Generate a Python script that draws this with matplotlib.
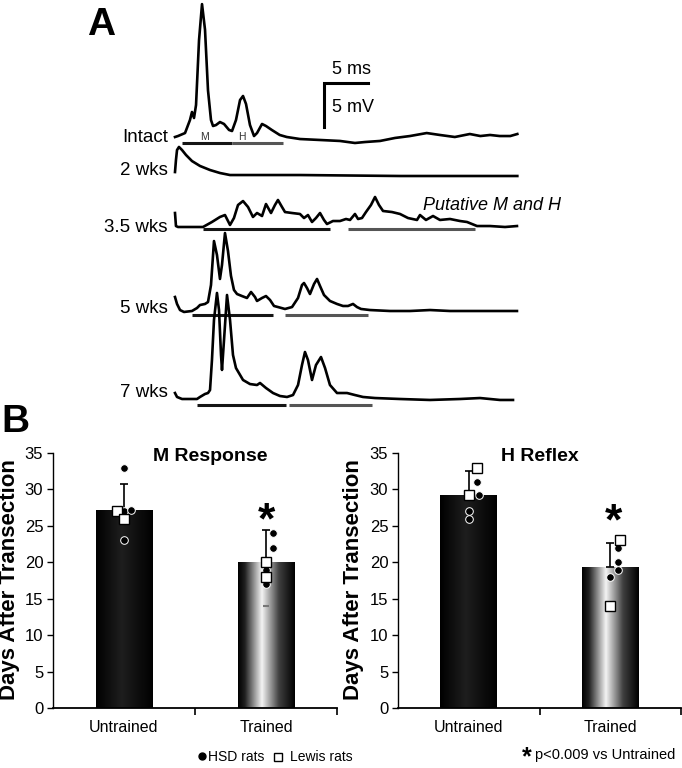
import numpy as np
import matplotlib
matplotlib.use('Agg')
import matplotlib.pyplot as plt
from matplotlib.colors import LinearSegmentedColormap
from matplotlib.lines import Line2D

plt.rcParams['font.family'] = ['Liberation Sans', 'DejaVu Sans']

# ---------------- Panel A: EMG traces (time in ms, amplitude in mV above baseline)
intact_t = [0, 0.34, 1.14, 1.70, 1.93, 2.16, 2.39, 2.73, 3.07, 3.41, 3.75, 4.09, 4.32, 4.66,
            5.11, 5.57, 6.14, 6.48, 6.93, 7.39, 7.73, 8.07, 8.52, 8.98, 9.32, 9.89, 10.34,
            11.0, 11.9, 12.7, 14.2, 16.5, 18.75, 20.45, 21.6, 23.3, 25.0, 26.7, 28.6, 30.1,
            31.8, 33.5, 34.7, 35.8, 36.9, 38.1, 38.9]
intact_v = [0, 0.11, 0.45, 1.93, 2.84, 2.16, 3.64, 11.0, 15.1, 12.2, 5.3, 1.93, 1.25, 1.36,
            1.70, 1.48, 0.80, 0.68, 1.93, 4.2, 4.66, 3.75, 1.36, 0.11, 0.45, 1.48, 1.25,
            0.80, 0.23, 0, -0.23, -0.34, -0.45, -0.68, -0.57, -0.45, -0.11, 0.11, 0.45, 0.23,
            0, 0.34, 0.11, 0.23, 0.11, 0.11, 0.34]

wk2_t = [0, 0.11, 0.23, 0.45, 0.80, 1.25, 1.93, 2.84, 3.98, 5.11, 6.25, 8.52, 14.2, 25.6, 38.9]
wk2_v = [0.45, 1.82, 2.95, 3.30, 2.95, 2.39, 1.70, 1.14, 0.68, 0.34, 0.11, 0.11, 0.11, 0, 0]

wk35_t = [0, 0.11, 0.34, 1.70, 3.18, 4.20, 5.11, 5.68, 6.25, 6.70, 7.16, 7.73, 8.30, 8.86,
          9.32, 9.89, 10.34, 10.91, 11.36, 11.70, 12.16, 12.50, 13.30, 14.20, 14.66, 15.11,
          15.57, 16.02, 16.48, 16.93, 17.27, 17.95, 18.75, 19.43, 19.89, 20.45, 20.80, 21.25,
          21.70, 22.27, 22.73, 23.18, 23.64, 24.66, 25.57, 26.48, 27.50, 27.84, 28.52, 29.32,
          30.11, 31.25, 32.39, 33.18, 34.32, 35.80, 37.50, 38.86]
wk35_v = [1.59, 0.11, 0, 0, 0, 0.57, 1.14, 1.36, 0.23, 1.02, 2.50, 2.95, 2.27, 1.14,
          1.59, 1.25, 2.61, 1.59, 2.50, 3.07, 2.27, 1.70, 1.59, 1.48, 1.02, 1.36,
          0.57, 1.02, 1.59, 0.80, 0.34, 0.68, 0.68, 0.91, 0.80, 1.48, 0.91, 1.02,
          1.70, 2.50, 3.41, 2.50, 1.82, 1.70, 1.48, 1.02, 0.80, 1.36, 0.80, 1.25,
          0.80, 0.91, 0.68, 0.57, 0.11, 0.11, 0, 0.11]

wk5_t = [0, 0.23, 0.57, 1.02, 1.93, 2.50, 2.84, 3.41, 3.75, 4.09, 4.43, 4.77, 5.11, 5.34,
         5.68, 6.02, 6.36, 6.70, 7.05, 7.61, 8.18, 8.64, 9.09, 9.32, 9.89, 10.34, 10.80,
         11.25, 11.70, 12.50, 13.30, 13.98, 14.43, 14.66, 15.00, 15.34, 15.80, 16.14, 16.48,
         16.93, 17.61, 18.41, 19.09, 19.66, 20.23, 20.68, 21.14, 22.16, 24.43, 26.70, 28.98,
         31.25, 33.52, 35.80, 38.86]
wk5_v = [1.59, 0.80, 0.11, -0.11, 0, 0.34, 0.68, 0.80, 1.02, 2.95, 7.95, 6.36, 3.64, 5.23,
         8.86, 6.82, 4.0, 2.39, 1.93, 1.70, 1.48, 2.16, 1.59, 1.14, 1.48, 1.70, 1.25,
         0.57, 0.45, 0.23, 0.45, 1.48, 2.95, 3.18, 2.61, 1.93, 3.07, 3.64, 2.84,
         1.82, 1.14, 0.80, 0.57, 0.57, 0.80, 0.45, 0.23, 0.11, 0, 0, 0.11,
         0, 0, 0, 0]

wk7_t = [0, 0.23, 0.80, 2.50, 2.84, 3.41, 3.75, 3.98, 4.20, 4.43, 4.77, 5.0, 5.23, 5.34,
         5.57, 5.91, 6.25, 6.59, 6.93, 7.73, 8.52, 9.32, 9.66, 10.34, 11.14, 11.93, 12.73,
         13.41, 13.98, 14.43, 14.77, 15.11, 15.57, 16.02, 16.59, 17.05, 17.61, 18.41, 19.55,
         20.45, 21.36, 22.73, 25.57, 28.98, 32.39, 34.66, 36.93, 38.41]
wk7_v = [0.68, 0.23, 0, 0, 0.23, 0.57, 0.68, 1.02, 4.43, 8.98, 12.05, 10.11, 5.0, 3.30,
         6.70, 11.82, 9.0, 5.0, 3.52, 2.16, 1.70, 1.59, 1.82, 1.25, 0.68, 0.34, 0.23,
         0.45, 1.59, 3.86, 5.34, 4.43, 2.16, 3.86, 4.77, 3.52, 1.59, 0.68, 0.68,
         0.45, 0.23, 0.11, 0, -0.11, 0, 0.11, -0.11, -0.11]

trace_labels = ['Intact', '2 wks', '3.5 wks', '5 wks', '7 wks']
# M and H analysis windows (ms): (M start, M end, H start, H end)
windows = {'Intact': (0.80, 6.48, 6.48, 12.27),
           '3.5 wks': (3.18, 17.61, 19.66, 34.09),
           '5 wks': (1.93, 11.14, 12.50, 21.93),
           '7 wks': (2.50, 12.61, 12.95, 22.39)}

# ---------------- Panel B: days after transection
groups = ['Untrained', 'Trained']
m_mean = [27.2, 20.0]
m_sd = [3.6, 4.4]
h_mean = [29.3, 19.4]
h_sd = [3.2, 3.2]

m_hsd = [[33, 27, 27.2, 23], [24, 22, 19, 17]]
m_lewis = [[27, 26], [20, 18]]
h_hsd = [[31, 29.2, 27, 26], [22, 20, 19, 18]]
h_lewis = [[33, 29.3], [23, 14]]
m_extra = [14]  # faint grey mark in trained M bar

W, H = 682, 768
fig = plt.figure(figsize=(W / 100, H / 100), dpi=100)


def fx(px):
    return px / W


def fy(py):
    return 1 - py / H


# ---- panel A, 1 ms = 1 mV = 8.8 px, trace start at x = 175 px
PX = 8.8
X0 = 175
top_a = 415
ax_a = fig.add_axes([0, fy(top_a), 1, top_a / H])
ax_a.set_xlim(-X0 / PX, (W - X0) / PX)
ax_a.set_ylim(-top_a / PX, 0)
ax_a.axis('off')

traces = [(intact_t, intact_v), (wk2_t, wk2_v), (wk35_t, wk35_v), (wk5_t, wk5_v), (wk7_t, wk7_v)]
base_px = [137, 176, 227, 311, 399]
label_base_px = [142, 175, 232, 313, 397]
win_px = {'Intact': 143, '3.5 wks': 229, '5 wks': 315, '7 wks': 405}

for (t, v), lab, b, lb in zip(traces, trace_labels, base_px, label_base_px):
    off = -b / PX
    ax_a.plot(t, np.array(v) + off, color='black', lw=1.9, solid_joinstyle='round')
    ax_a.text(-0.8, -lb / PX, lab, ha='right', va='baseline', fontsize=13.5)
    if lab in windows:
        m0, m1, h0, h1 = windows[lab]
        yw = -win_px[lab] / PX
        ax_a.plot([m0, m1], [yw, yw], color='#151515', lw=2.2, solid_capstyle='butt')
        ax_a.plot([h0, h1], [yw, yw], color='#555555', lw=2.2, solid_capstyle='butt')

ax_a.text(3.4, -140 / PX, 'M', ha='center', va='baseline', fontsize=7.5, color='#333333')
ax_a.text(7.6, -140 / PX, 'H', ha='center', va='baseline', fontsize=7.5, color='#333333')

# scale bar
sx, sy = (324 - X0) / PX, -83 / PX
ax_a.plot([sx + 5, sx, sx], [sy, sy, sy - 5], color='black', lw=2.2, solid_joinstyle='miter')
ax_a.text((351 - X0) / PX, -74 / PX, '5 ms', ha='center', va='baseline', fontsize=13)
ax_a.text((332 - X0) / PX, -112 / PX, '5 mV', ha='left', va='baseline', fontsize=13)
ax_a.text((423 - X0) / PX, -210 / PX, 'Putative M and H', ha='left', va='baseline',
          fontsize=13, style='italic')

fig.text(fx(87), fy(35), 'A', fontsize=28, fontweight='bold', va='baseline')
fig.text(fx(1), fy(432), 'B', fontsize=28, fontweight='bold', va='baseline')

# ---- panel B
cmap_dark = LinearSegmentedColormap.from_list('dark', [(0, '#000000'), (0.45, '#1e1e1e'), (1, '#000000')])
cmap_light = LinearSegmentedColormap.from_list(
    'light', [(0, '#000000'), (0.12, '#202020'), (0.42, '#f4f4f4'), (0.72, '#404040'), (1, '#000000')])
grad = np.linspace(0, 1, 256).reshape(1, -1)


def bar_panel(ax, means, sds, hsd, lewis, title, title_x, hsd_dx, lewis_dx, star_y):
    x = np.arange(len(groups))
    bars = ax.bar(x, means, width=0.4, color='none', edgecolor='none', zorder=2)
    for b, cm in zip(bars, [cmap_dark, cmap_light]):
        x0 = b.get_x()
        im = ax.imshow(grad, cmap=cm, extent=[x0, x0 + b.get_width(), 0, b.get_height()],
                       aspect='auto', zorder=2)
        im.set_clip_path(b)
    ax.errorbar(x, means, yerr=[[0, 0], sds], fmt='none', ecolor='black', elinewidth=1.2,
                capsize=3, capthick=1.2, zorder=3)
    for i in range(len(groups)):
        ax.plot(i + np.array(hsd_dx[i]), hsd[i], 'o', ms=5.5, mfc='black', mec='white',
                mew=0.7, zorder=5, linestyle='none')
        ax.plot(i + np.array(lewis_dx[i]), lewis[i], 's', ms=7, mfc='white', mec='black',
                mew=1.0, zorder=6, linestyle='none')
    ax.text(1 + star_y[0], star_y[1], '*', ha='center', va='center', fontsize=32,
            fontweight='bold', zorder=6)
    ax.set_xlim(-0.5, 1.5)
    ax.set_ylim(0, 35)
    ax.set_yticks(range(0, 36, 5))
    ax.set_xticks(x)
    ax.set_xticklabels(groups, fontsize=11.5)
    ax.tick_params(axis='x', length=0, pad=9)
    ax.set_xticks([0.5, 1.5], minor=True)
    ax.tick_params(axis='x', which='minor', length=5, width=1.2, direction='out')
    ax.tick_params(axis='y', length=4, width=1, direction='out', labelsize=12, pad=3)
    for s in ['top', 'right']:
        ax.spines[s].set_visible(False)
    ax.spines['left'].set_linewidth(1)
    ax.spines['bottom'].set_linewidth(1.3)
    ax.set_title(title, fontsize=14, fontweight='bold', x=title_x, y=0.935)


ax_m = fig.add_axes([fx(53), fy(708), (337 - 53) / W, (708 - 453) / H])
bar_panel(ax_m, m_mean, m_sd, m_hsd, m_lewis, 'M Response', 0.553,
          [[0, 0, 0.05, 0], [0.05, 0.05, 0, 0]], [[-0.05, 0], [0, 0]], (0, 25.6))
ax_m.plot([1], m_extra, '_', ms=4, mew=1.5, color='#777777', zorder=5)

ax_h = fig.add_axes([fx(398), fy(708), (681 - 398) / W, (708 - 453) / H])
bar_panel(ax_h, h_mean, h_sd, h_hsd, h_lewis, 'H Reflex', 0.5,
          [[0.055, 0.07, 0, 0], [0.055, 0.055, 0.055, 0]], [[0.06, 0], [0.07, 0]], (0.02, 25.4))

fig.text(fx(10), fy(580), 'Days After Transection', rotation=90, ha='center', va='center',
         fontsize=16, fontweight='bold')
fig.text(fx(353), fy(580), 'Days After Transection', rotation=90, ha='center', va='center',
         fontsize=16, fontweight='bold')

# legend, laid out by hand
fig.add_artist(Line2D([fx(202)], [fy(756)], marker='o', ms=5, mfc='black', mec='black',
                      ls='none', transform=fig.transFigure))
fig.text(fx(208), fy(761), 'HSD rats', fontsize=10, va='baseline')
fig.add_artist(Line2D([fx(278)], [fy(757)], marker='s', ms=6, mfc='white', mec='black',
                      mew=1, ls='none', transform=fig.transFigure))
fig.text(fx(290), fy(761), 'Lewis rats', fontsize=10, va='baseline')

fig.text(fx(522), fy(764), '*', fontsize=18, fontweight='bold', va='baseline')
fig.text(fx(535), fy(759), 'p<0.009 vs Untrained', fontsize=10.5, va='baseline')

fig.savefig('out.png', dpi=100)
